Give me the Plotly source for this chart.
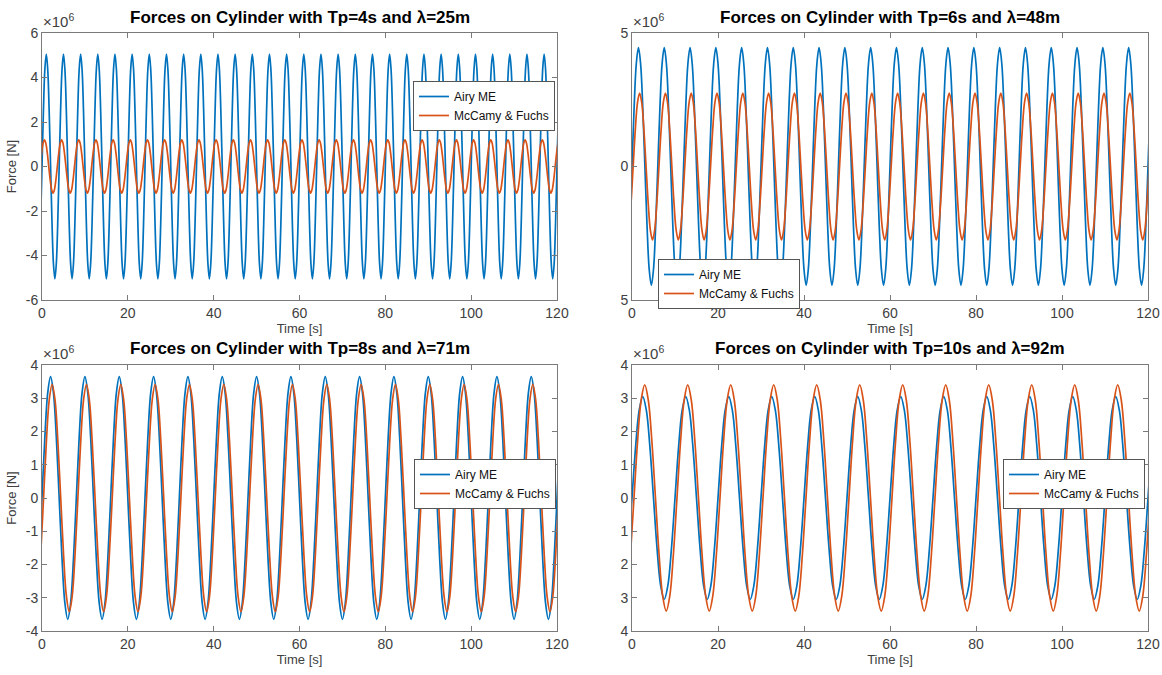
import numpy as np
import plotly.graph_objects as go
from plotly.subplots import make_subplots

# ---------------- data (force values in 1e6 N) ----------------
periods = [4, 6, 8, 10]                      # wave period Tp [s]
wavelengths = [25, 48, 71, 92]               # lambda [m]
time_range = [0, 120]

# one wave cycle of each series, sampled every Tp/12 from a rising zero crossing
airy_cycles = [
    [0.0, 2.53, 4.37, 5.05, 4.37, 2.53, 0.0, -2.53, -4.37, -5.05, -4.37, -2.53],
    [0.0, 2.23, 3.85, 4.45, 3.85, 2.23, 0.0, -2.23, -3.85, -4.45, -3.85, -2.23],
    [0.0, 1.83, 3.16, 3.65, 3.16, 1.83, 0.0, -1.83, -3.16, -3.65, -3.16, -1.83],
    [0.0, 1.53, 2.64, 3.05, 2.64, 1.53, 0.0, -1.53, -2.64, -3.05, -2.64, -1.53],
]
mccamy_cycles = [
    [0.0, 0.60, 1.04, 1.20, 1.04, 0.60, 0.0, -0.60, -1.04, -1.20, -1.04, -0.60],
    [0.0, 1.38, 2.38, 2.75, 2.38, 1.38, 0.0, -1.38, -2.38, -2.75, -2.38, -1.38],
    [0.0, 1.71, 2.96, 3.42, 2.96, 1.71, 0.0, -1.71, -2.96, -3.42, -2.96, -1.71],
    [0.0, 1.70, 2.94, 3.40, 2.94, 1.70, 0.0, -1.70, -2.94, -3.40, -2.94, -1.70],
]
# time of the first rising zero crossing of each series [s]
airy_start = [0.0, 0.0, 0.0, 0.0]
mccamy_start = [-0.43, 0.27, 0.36, 0.46]

# y-axis ticks per panel
y_ranges = [[-6, 6], [-5, 5], [-4, 4], [-4, 4]]
y_tickvals = [[-6, -4, -2, 0, 2, 4, 6], [-5, 0, 5],
              [-4, -3, -2, -1, 0, 1, 2, 3, 4], [-4, -3, -2, -1, 0, 1, 2, 3, 4]]
y_ticktext = [["-6", "-4", "-2", "0", "2", "4", "6"], ["5", "0", "5"],
              ["-4", "-3", "-2", "-1", "0", "1", "2", "3", "4"],
              ["4", "3", "2", "1", "0", "1", "2", "3", "4"]]
x_tickvals = [0, 20, 40, 60, 80, 100, 120]
series_names = ["Airy ME", "McCamy & Fuchs"]

# ---------------- styling ----------------
W, H = 1162, 675
BLUE, ORANGE = "#0072BD", "#D95319"
FONT = "Liberation Sans"
AXC = "#7a7a7a"
TXT = "#404040"

# panel boxes in screen pixels (left, right, top, bottom)
boxes = [(42, 557, 33, 300), (632, 1148, 33, 300), (42, 557, 365, 631), (632, 1148, 365, 631)]
legend_pos = [(413, 81), (658, 259), (414, 459), (1003, 459)]


def px(x):
    return x / W


def py(y):
    return (H - y) / H


def tiled(cycle, start, period):
    n_rep = int(np.ceil((time_range[1] - start) / period)) + 2
    vals = np.tile(np.array(cycle), n_rep)
    t = start - period + np.arange(len(vals)) * period / len(cycle)
    return t, vals


fig = make_subplots(rows=2, cols=2)
legend_names = ["legend", "legend2", "legend3", "legend4"]

for i in range(4):
    r, c = i // 2 + 1, i % 2 + 1
    for cycles, starts, color, name in [(airy_cycles, airy_start, BLUE, series_names[0]),
                                         (mccamy_cycles, mccamy_start, ORANGE, series_names[1])]:
        t, v = tiled(cycles[i], starts[i], periods[i])
        fig.add_trace(go.Scatter(x=t, y=v, mode="lines", name=name,
                                 line=dict(color=color, width=1.7, shape="spline"),
                                 legend=legend_names[i], showlegend=True),
                      row=r, col=c)

layout = dict(width=W, height=H, margin=dict(l=0, r=0, t=0, b=0, autoexpand=False),
              paper_bgcolor="white", plot_bgcolor="white",
              font=dict(family=FONT, color=TXT, size=13), showlegend=True)

annotations = []
for i in range(4):
    l, rgt, top, bot = boxes[i]
    xa = "xaxis" if i == 0 else f"xaxis{i+1}"
    ya = "yaxis" if i == 0 else f"yaxis{i+1}"
    layout[xa] = dict(domain=[px(l), px(rgt)], range=time_range, tickvals=x_tickvals,
                      ticks="inside", ticklen=5, tickcolor=AXC, showline=True, linecolor=AXC,
                      linewidth=1, mirror="ticks", showgrid=False, zeroline=False,
                      automargin=False,
                      tickfont=dict(size=14, color=TXT, family=FONT),
                      title=dict(text="Time [s]", font=dict(size=13, color=TXT, family=FONT), standoff=2))
    layout[ya] = dict(domain=[py(bot), py(top)], range=y_ranges[i],
                      tickvals=y_tickvals[i], ticktext=y_ticktext[i],
                      ticks="inside", ticklen=5, tickcolor=AXC, showline=True, linecolor=AXC,
                      linewidth=1, mirror="ticks", showgrid=False, zeroline=False,
                      automargin=False,
                      tickfont=dict(size=14, color=TXT, family=FONT))
    if i % 2 == 0:
        layout[ya]["title"] = dict(text="Force [N]", font=dict(size=13, color=TXT, family=FONT), standoff=6)
    lx, ly = legend_pos[i]
    layout[legend_names[i]] = dict(x=px(lx), y=py(ly), xanchor="left", yanchor="top",
                                   bgcolor="white", bordercolor="#555", borderwidth=1,
                                   font=dict(size=12, color="#111", family=FONT),
                                   itemwidth=30, tracegroupgap=0)
    # title
    annotations.append(dict(x=px((l + rgt) / 2), y=py(17) if i < 2 else py(349),
                            xref="paper", yref="paper", xanchor="center", yanchor="middle",
                            showarrow=False,
                            text=f"<b>Forces on Cylinder with Tp={periods[i]}s and λ={wavelengths[i]}m</b>",
                            font=dict(size=17, color="black", family=FONT)))
    # exponent
    annotations.append(dict(x=px(l - 1), y=py(top - 1), xref="paper", yref="paper",
                            xanchor="left", yanchor="bottom", showarrow=False,
                            text="×10<sup>6</sup>", font=dict(size=15, color=TXT, family=FONT)))

layout["annotations"] = annotations
fig.update_layout(**layout)
fig.write_html("out.html", config={"displayModeBar": False},
               post_script="document.body.style.margin='0';document.body.style.overflow='hidden';")
